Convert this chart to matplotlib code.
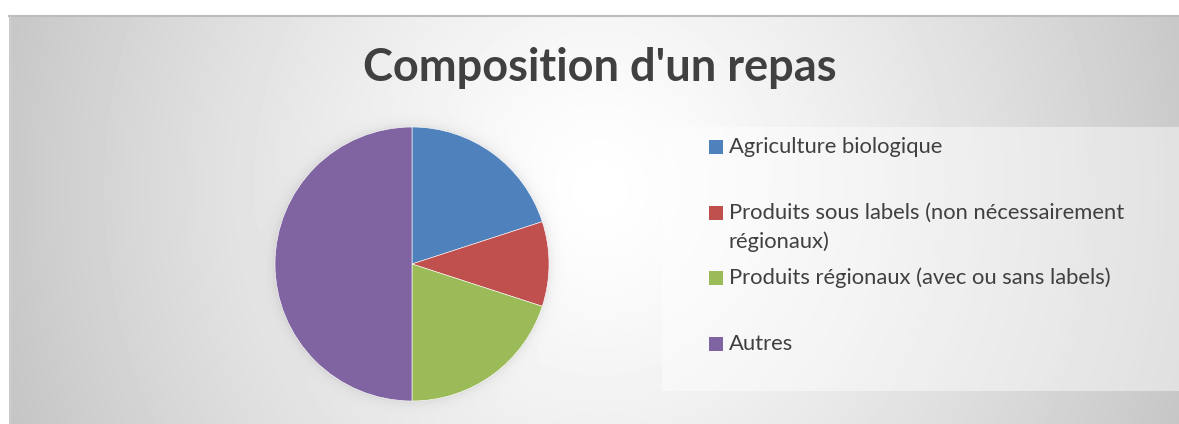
import numpy as np
import matplotlib
matplotlib.use('Agg')
import matplotlib.pyplot as plt
from matplotlib.patches import Rectangle

# data
categories = ['Agriculture biologique',
              'Produits sous labels (non nécessairement\nrégionaux)',
              'Produits régionaux (avec ou sans labels)',
              'Autres']
values = [20, 10, 20, 50]
colors = ['#4f81bd', '#c0504d', '#9bbb59', '#8064a2']
title = "Composition d'un repas"

W, H = 1179, 424
fig = plt.figure(figsize=(W / 100, H / 100), dpi=100)
fig.patch.set_facecolor('white')

# background gradient (chart area starts at x=9, y=15)
bg_ax = fig.add_axes([0, 0, 1, 1])
xx, yy = np.meshgrid(np.arange(W) + 0.5, np.arange(H) + 0.5)
r = np.sqrt(((xx - 600) / 610) ** 2 + ((yy - 190) / 650) ** 2)
val = 1 - 0.22 * r ** 1.3
# soft shadow around the pie
pcx, pcy, R = 412, 264, 137
d = np.sqrt((xx - pcx) ** 2 + (yy - pcy) ** 2)
shade = np.where(d > R, 0.07 * np.exp(-(d - R) / 5.0), 0.0)
val = np.clip(val - shade, 0, 1)
val[:15, :] = 1.0
val[:, :9] = 1.0
bg_ax.imshow(val, cmap='gray', vmin=0, vmax=1, extent=(0, W, H, 0),
             interpolation='bilinear', aspect='auto')
bg_ax.plot([9, W], [15.5, 15.5], color='#bcbcbc', lw=1.5)
bg_ax.plot([9.5, 9.5], [15, H], color='#cfcfcf', lw=1)
# legend box
bg_ax.add_patch(Rectangle((662, 127), W - 662, 264, facecolor='white',
                          edgecolor='none', alpha=0.45))
bg_ax.set_xlim(0, W)
bg_ax.set_ylim(H, 0)
bg_ax.axis('off')

# pie
pax = fig.add_axes([(pcx - R) / W, 1 - (pcy + R) / H, 2 * R / W, 2 * R / H])
pax.pie(values, colors=colors, startangle=90, counterclock=False,
        wedgeprops=dict(edgecolor='white', linewidth=0.4))
pax.set_xlim(-1, 1)
pax.set_ylim(-1, 1)
pax.axis('off')

# title
bg_ax.text(600, 68, title, ha='center', va='center', fontsize=32.5,
           fontweight='bold', family='Lato', color='#404040')

# legend
row_y = [147, 213, 278, 344]
for lbl, c, y in zip(categories, colors, row_y):
    bg_ax.add_patch(Rectangle((709, y - 7), 14, 14, facecolor=c, edgecolor='none'))
    for i, line in enumerate(lbl.split('\n')):
        bg_ax.text(729, y + i * 29, line, ha='left', va='center',
                   fontsize=15.8, family='Lato', color='#404040')

fig.savefig('out.png', dpi=100)
